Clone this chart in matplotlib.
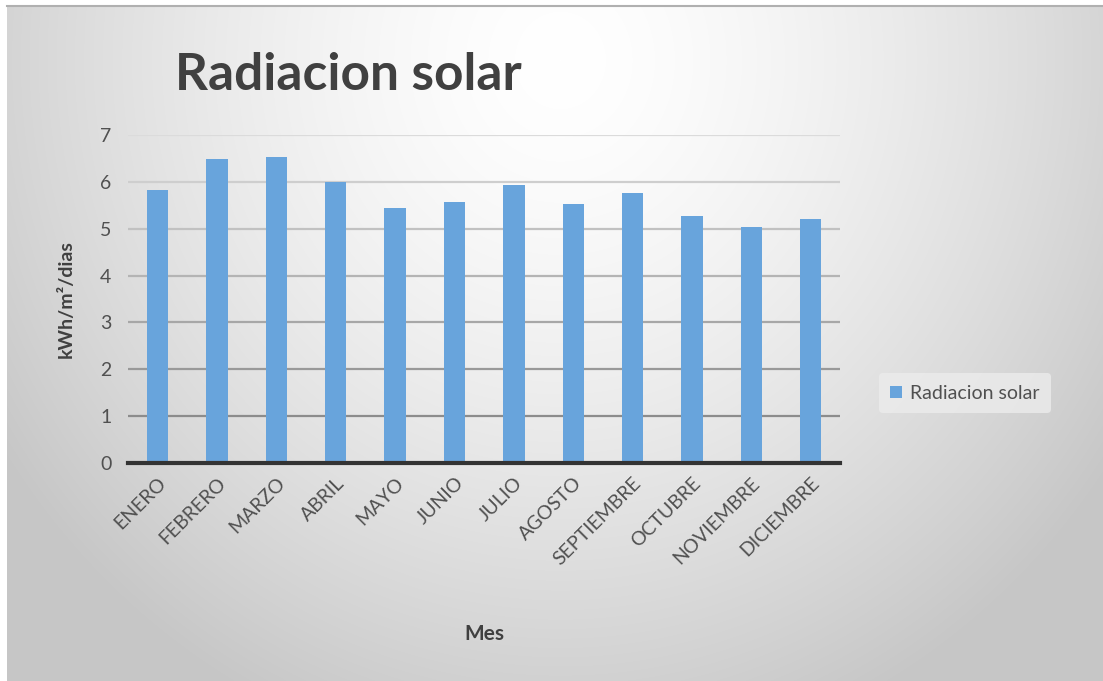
import numpy as np
import matplotlib
matplotlib.use("Agg")
from matplotlib import pyplot as plt

meses = ["ENERO", "FEBRERO", "MARZO", "ABRIL", "MAYO", "JUNIO", "JULIO",
         "AGOSTO", "SEPTIEMBRE", "OCTUBRE", "NOVIEMBRE", "DICIEMBRE"]
radiacion = [5.83, 6.49, 6.52, 5.99, 5.43, 5.56, 5.93, 5.52, 5.75, 5.27, 5.03, 5.21]
yticks = [0, 1, 2, 3, 4, 5, 6, 7]

plt.rcParams['font.family'] = ['Lato', 'DejaVu Sans']
texto = '#404040'

fig = plt.figure(figsize=(11.03, 6.81), dpi=100)
fig.patch.set_facecolor('#c8c8c8')

# fondo con degradado radial (margen blanco arriba e izquierda)
bg = fig.add_axes([0, 0, 1, 1], zorder=-1)
W, H = 1103, 681
xx, yy = np.meshgrid(np.arange(W), np.arange(H))
r = np.sqrt(((xx - 560) / 560.0) ** 2 + ((yy - 60) / 600.0) ** 2)
val = np.clip(1.0 - 0.17 * r ** 1.5, 0.78, 1.0)
bg.imshow(np.dstack([val, val, val]), extent=[0, W, H, 0], aspect='auto')
bg.axvspan(0, 7, color='white', lw=0)
bg.axhspan(0, 5, color='white', lw=0)
bg.plot([7, W], [5.5, 5.5], color='#b0b0b0', lw=1.5)
bg.set_xlim(0, W)
bg.set_ylim(H, 0)
bg.axis('off')

ax = fig.add_axes([0.116, 0.320, 0.646, 0.482])
ax.patch.set_alpha(0)
x = np.arange(len(meses))
ax.bar(x, radiacion, width=0.36, color='#68A4DC', label='Radiacion solar', zorder=3)

ax.set_xlim(-0.5, len(meses) - 0.5)
ax.set_ylim(0, 7)
ax.set_yticks(yticks)
ax.set_yticklabels([str(t) for t in yticks], fontsize=14, color='#505050')
ax.set_xticks(x)
ax.set_xticklabels(meses, rotation=45, ha='right', rotation_mode='anchor',
                   fontsize=14, color='#505050')
ax.tick_params(length=0, pad=12)
ax.tick_params(axis='x', pad=8)

# lineas de cuadricula, mas oscuras abajo
for t in yticks[1:]:
    g = 0.55 + 0.31 * (t - 1) / 6.0
    ax.axhline(t, color=(g, g, g), lw=1.6, zorder=1)

for s in ['top', 'right', 'left']:
    ax.spines[s].set_visible(False)
ax.spines['bottom'].set_color('#333333')
ax.spines['bottom'].set_linewidth(3)
ax.spines['bottom'].set_zorder(4)

ax.set_xlabel('Mes', fontsize=15, fontweight='bold', color=texto, labelpad=40)
ax.set_ylabel('kWh/m²/dias', fontsize=14, fontweight='bold', color=texto, labelpad=18)

fig.text(175 / W, 1 - 76 / H, 'Radiacion solar', fontsize=37, fontweight='bold',
         color=texto, va='center', ha='left')

leg = ax.legend(loc='center left', bbox_to_anchor=(1.04, 0.213), frameon=True,
                fontsize=14, handlelength=0.6, handleheight=0.6, handletextpad=0.4,
                borderpad=0.6)
leg.get_frame().set_facecolor('#ececec')
leg.get_frame().set_edgecolor('none')
leg.get_frame().set_alpha(0.8)
for t in leg.get_texts():
    t.set_color('#505050')

fig.savefig('out.png', dpi=100)
